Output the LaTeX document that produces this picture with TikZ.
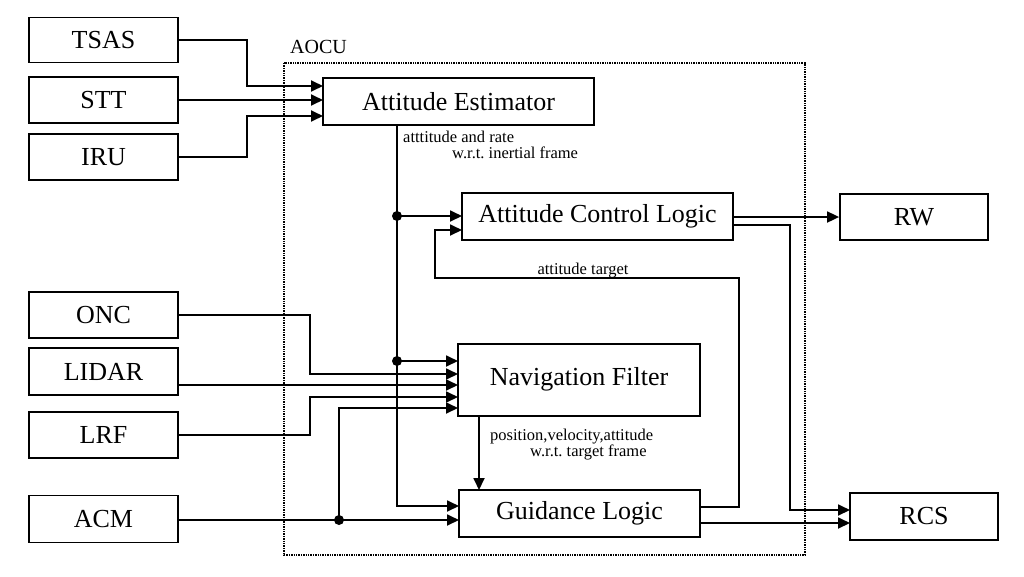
\documentclass[tikz,border=0pt]{standalone}
\usepackage{fontspec}
\setmainfont{Liberation Serif}
\usetikzlibrary{arrows.meta,calc}
\begin{document}
\begin{tikzpicture}[x=1pt,y=-1pt,
  blk/.style={draw,line width=1.8pt,rectangle,inner sep=0pt,font=\fontsize{26}{30}\selectfont},
  conn/.style={line width=1.8pt},
  arr/.style={conn,-{Triangle[length=12pt,width=11pt]}},
  lbl/.style={inner sep=0pt,font=\fontsize{16.5}{18}\selectfont},
  junc/.style={circle,fill,inner sep=0pt,minimum size=10pt},
  aocu/.style={densely dotted,line width=1.4pt}]
\useasboundingbox (0,0) rectangle (1024,576);
\fill[white] (0,0) rectangle (1024,576);

% AOCU frame
\draw[aocu] (284,63) rectangle (805,555);
\node[anchor=base west,inner sep=0pt,font=\fontsize{20}{22}\selectfont] (aoculbl) at (290,53) {AOCU};

% sensor boxes
\node[blk,minimum width=149pt,minimum height=45pt] (TSAS) at (103.5,40) {TSAS};
\node[blk,minimum width=149pt,minimum height=46pt] (STT) at (103.5,100) {STT};
\node[blk,minimum width=149pt,minimum height=46pt] (IRU) at (103.5,157) {IRU};
\node[blk,minimum width=149pt,minimum height=46pt] (ONC) at (103.5,315) {ONC};
\node[blk,minimum width=149pt,minimum height=47pt] (LIDAR) at (103.5,371.5) {LIDAR};
\node[blk,minimum width=149pt,minimum height=46pt] (LRF) at (103.5,435) {LRF};
\node[blk,minimum width=149pt,minimum height=47pt] (ACM) at (103.5,519) {ACM};

% AOCU blocks
\node[blk,minimum width=271pt,minimum height=47pt] (AE) at (458.5,101.5) {Attitude Estimator};
\node[blk,minimum width=271pt,minimum height=47pt] (ACL) at (597.5,216.5) {Attitude Control Logic};
\node[blk,minimum width=242pt,minimum height=72pt] (NF) at (579,380) {\raisebox{7pt}{Navigation Filter}};
\node[blk,minimum width=241pt,minimum height=47pt] (GL) at (579.5,513.5) {Guidance Logic};

% actuators
\node[blk,minimum width=148pt,minimum height=46pt] (RW) at (914,217) {RW};
\node[blk,minimum width=148pt,minimum height=47pt] (RCS) at (924,516.5) {RCS};

% port coordinates
\coordinate (ae1) at (323,86);
\coordinate (ae2) at (323,100);
\coordinate (ae3) at (323,116);
\coordinate (aeo) at (397,125);
\coordinate (acl1) at (462,216);
\coordinate (acl2) at (462,230);
\coordinate (aclo1) at (733,217);
\coordinate (aclo2) at (733,225);
\coordinate (nf1) at (458,361);
\coordinate (nf2) at (458,374);
\coordinate (nf3) at (458,385);
\coordinate (nf4) at (458,397);
\coordinate (nf5) at (458,408);
\coordinate (nfo) at (479,416);
\coordinate (gli) at (479,490);
\coordinate (gl1) at (459,506);
\coordinate (gl2) at (459,520);
\coordinate (glo1) at (700,507);
\coordinate (glo2) at (700,523);
\coordinate (rcs1) at (850,510);
\coordinate (rcs2) at (850,523);

% junctions
\node[junc] (j1) at (397,216) {};
\node[junc] (j2) at (397,361) {};
\node[junc] (j3) at (339,520) {};

% sensors to attitude estimator
\draw[arr] (TSAS.east) -- ++(68,0) |- (ae1);
\draw[arr] (STT.east) -- (ae2);
\draw[arr] (IRU.east) -- ++(68,0) |- (ae3);

% estimator output bus
\draw[arr] (aeo) |- (gl1);
\draw[arr] (j1.center) -- (acl1);
\draw[arr] (j2.center) -- (nf1);

% nav sensors
\draw[arr] (ONC.east) -- ++(131,0) |- (nf2);
\draw[arr] (LIDAR.east |- nf3) -- (nf3);
\draw[arr] (LRF.east) -- ++(131,0) |- (nf4);
\draw[arr] (ACM.east |- gl2) -- (gl2);
\draw[arr] (j3.center) |- (nf5);

% nav filter to guidance
\draw[arr] (nfo) -- (gli);

% guidance to attitude control (attitude target)
\draw[arr] (glo1) -- ++(39,0) -- ++(0,-229) -| ($(acl2)+(-27,0)$) -- (acl2);
\node[lbl,anchor=base] (attt) at (583,274) {attitude target};

% outputs
\draw[arr] (aclo1) -- (aclo1 -| RW.west);
\draw[arr] (aclo2) -- ++(57,0) |- (rcs1);
\draw[arr] (glo2) -- (rcs2);

% labels
\node[lbl,anchor=base west] (l1a) at (403,142) {atttitude and rate};
\node[lbl,anchor=base west] (l1b) at (452,158) {w.r.t.\ inertial frame};
\node[lbl,anchor=base west] (l2a) at (490,440) {position,velocity,attitude};
\node[lbl,anchor=base west] (l2b) at (530,456) {w.r.t.\ target frame};
\end{tikzpicture}
\end{document}
